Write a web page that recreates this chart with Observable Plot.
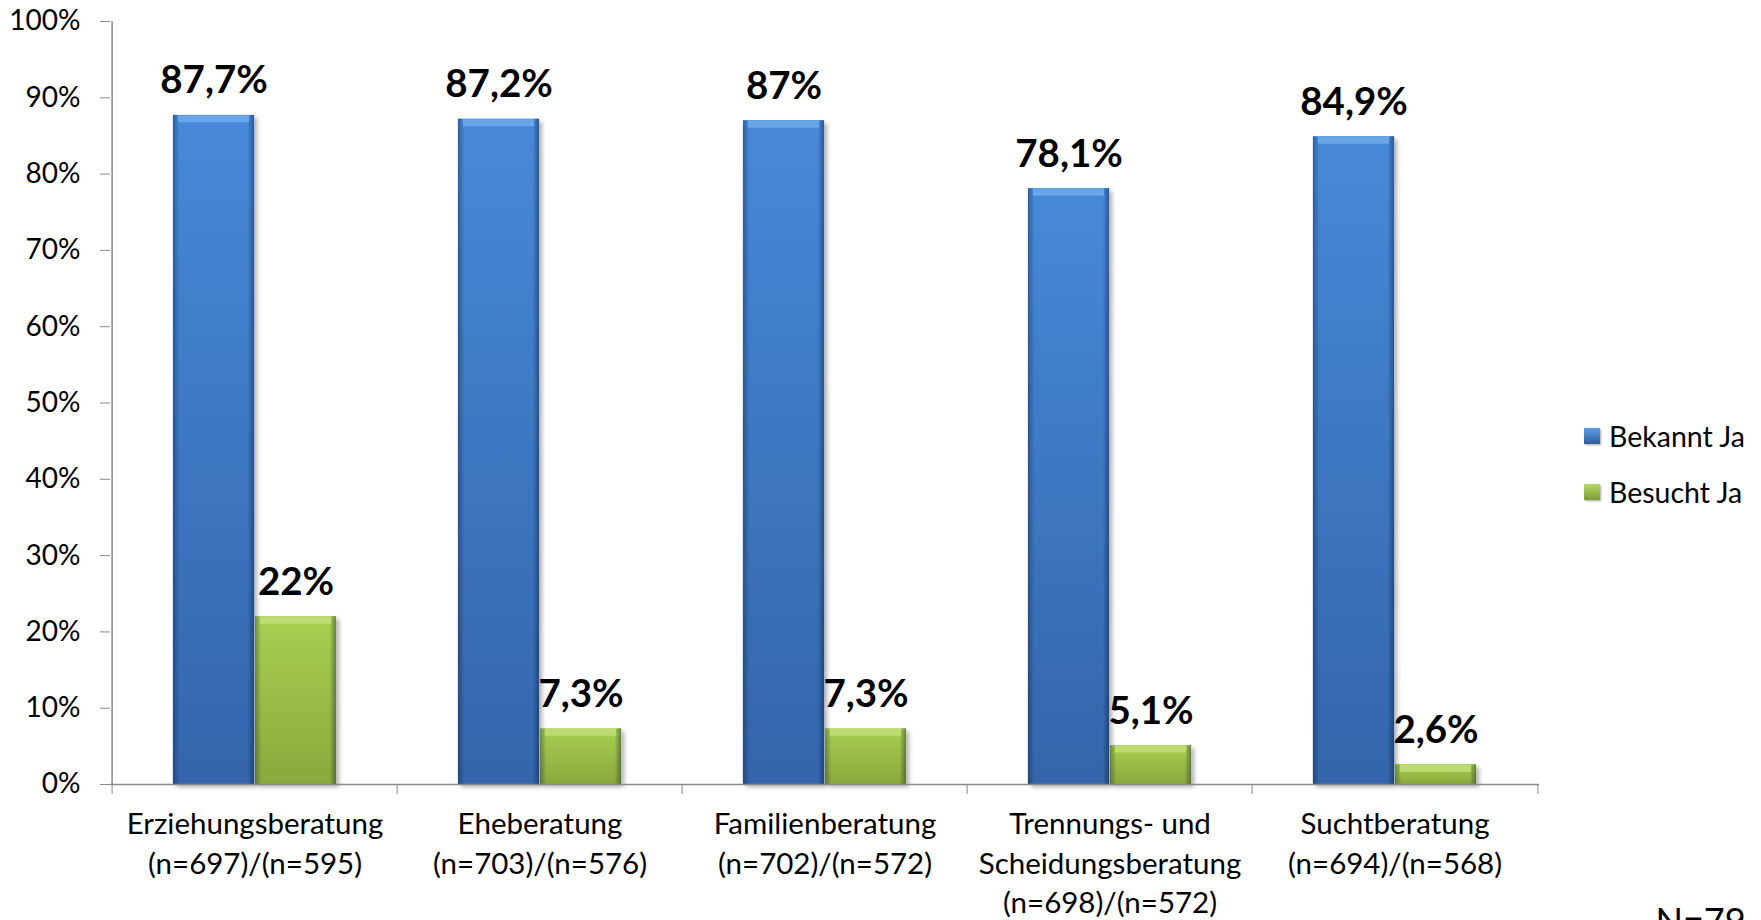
<!DOCTYPE html>
<html><head><meta charset="utf-8">
<script src="https://cdn.jsdelivr.net/npm/d3@7"></script>
<script src="https://cdn.jsdelivr.net/npm/@observablehq/plot@0.6"></script>
<style>
body{margin:0;background:#fff;font-family:Lato,sans-serif;color:#000}
#wrap{position:relative;width:1761px;height:920px;overflow:hidden}
.item{position:absolute;display:flex;align-items:center;white-space:nowrap;font-size:28.5px;line-height:32px;height:32px}
.sw{width:16px;height:16px;margin-right:9px;box-shadow:1px 1px 2px rgba(0,0,0,.35)}
</style></head><body>
<svg width="0" height="0" style="position:absolute"><defs>
<linearGradient id="gBlue" x1="0" y1="0" x2="0" y2="1"><stop offset="0" stop-color="#4789d8"/><stop offset="1" stop-color="#3465aa"/></linearGradient>
<linearGradient id="gGreen" x1="0" y1="0" x2="0" y2="1"><stop offset="0" stop-color="#a8cf52"/><stop offset="1" stop-color="#8ba83c"/></linearGradient>
<linearGradient id="gEdge" x1="0" y1="0" x2="1" y2="0"><stop offset="0" stop-color="#001030" stop-opacity=".35"/><stop offset=".08" stop-color="#001030" stop-opacity="0"/><stop offset=".92" stop-color="#001030" stop-opacity="0"/><stop offset="1" stop-color="#001030" stop-opacity=".4"/></linearGradient>
<filter id="shadow" x="-5%" y="-5%" width="115%" height="115%"><feDropShadow dx="3" dy="3" stdDeviation="2" flood-color="#000" flood-opacity=".3"/></filter>
</defs></svg>
<div id="wrap"></div>
<script>
// ---- data ----
const categories = ["Erziehungsberatung", "Eheberatung", "Familienberatung", "Trennungs- und\nScheidungsberatung", "Suchtberatung"];
const nBekannt = [697, 703, 702, 698, 694];
const nBesucht = [595, 576, 572, 572, 568];
const bekanntJa = [87.7, 87.2, 87, 78.1, 84.9];
const besuchtJa = [22, 7.3, 7.3, 5.1, 2.6];
const seriesNames = ["Bekannt Ja", "Besucht Ja"];
const yTicks = [0, 10, 20, 30, 40, 50, 60, 70, 80, 90, 100];
const sampleNote = "N=79";

// ---- layout / style ----
const W = 1761, H = 920, mL = 110, mR = 222, mT = 21, mB = 136;
const half = (W - mL - mR) / categories.length / 2;
const barW = 82;
const gray = "#8a8a8a";

const rowsA = categories.map((c, i) => ({category: c, value: bekanntJa[i]}));
const rowsB = categories.map((c, i) => ({category: c, value: besuchtJa[i]}));
const fmt = v => String(v).replace(".", ",") + "%";
const catLabel = c => { const i = categories.indexOf(c); return `${c}\n(n=${nBekannt[i]})/(n=${nBesucht[i]})`; };

const insA = {insetLeft: half - barW, insetRight: half};
const insB = {insetLeft: half, insetRight: half - barW};

const chart = Plot.plot({
  width: W, height: H,
  marginLeft: mL, marginRight: mR, marginTop: mT, marginBottom: mB,
  style: {fontFamily: "Lato, sans-serif", color: "#000", background: "#fff", overflow: "hidden"},
  x: {domain: categories, padding: 0, label: null},
  y: {domain: [0, 100], label: null},
  marks: [
    Plot.ruleX([categories[0]], {dx: -half, stroke: gray, strokeWidth: 1.5}),
    Plot.barY(rowsA, {x: "category", y: "value", fill: "url(#gBlue)", ...insA}),
    Plot.barY(rowsB, {x: "category", y: "value", fill: "url(#gGreen)", ...insB}),
    Plot.barY(rowsA, {x: "category", y: "value", fill: "url(#gEdge)", ...insA}),
    Plot.barY(rowsB, {x: "category", y: "value", fill: "url(#gEdge)", ...insB}),
    Plot.tickY(rowsA, {x: "category", y: "value", stroke: "#6aa5ea", strokeWidth: 7, dy: 3.5, insetLeft: half - barW + 5, insetRight: half + 5}),
    Plot.tickY(rowsB, {x: "category", y: "value", stroke: "#bcdc72", strokeWidth: 7, dy: 3.5, insetLeft: half + 5, insetRight: half - barW + 5}),
    Plot.ruleY([0], {stroke: gray, strokeWidth: 1.5}),
    Plot.text(rowsA, {x: "category", y: "value", text: d => fmt(d.value), dx: -barW / 2, dy: -22, lineAnchor: "bottom", fontSize: 38.5, fontWeight: "bold", fill: "#000"}),
    Plot.text(rowsB, {x: "category", y: "value", text: d => fmt(d.value), dx: barW / 2, dy: -22, lineAnchor: "bottom", fontSize: 38.5, fontWeight: "bold", fill: "#000"}),
    Plot.axisY({ticks: yTicks, tickSize: 10, tickPadding: 20, tickFormat: d => d + "%", fontSize: 28, stroke: gray, fill: "#000", label: null}),
    Plot.axisX(categories, {tickSize: 10, text: null, dx: -half, stroke: gray, label: null}),
    Plot.axisX([categories[categories.length - 1]], {tickSize: 10, text: null, dx: half, stroke: gray, label: null}),
    Plot.axisX({tickSize: 0, tickPadding: 22, tickFormat: catLabel, fontSize: 29.5, lineHeight: 1.33, fill: "#000", label: null}),
    Plot.text([sampleNote], {frameAnchor: "bottom-right", textAnchor: "start", lineAnchor: "top", dx: 116, dy: 124, fontSize: 36, fill: "#000"})
  ]
});
chart.querySelectorAll('g[aria-label="bar"]').forEach((g, i) => { if (i < 2) g.setAttribute("filter", "url(#shadow)"); });
const wrap = document.getElementById("wrap");
wrap.appendChild(chart);

const swFills = ["linear-gradient(#5b9be6,#2f5f9f)", "linear-gradient(#b4d866,#7f9c35)"];
const legendY = [420, 476];
seriesNames.forEach((s, i) => {
  const d = document.createElement("div");
  d.className = "item";
  d.style.left = "1584px"; d.style.top = legendY[i] + "px";
  d.innerHTML = `<span class="sw" style="background:${swFills[i]}"></span><span>${s}</span>`;
  wrap.appendChild(d);
});
</script>
</body></html>
